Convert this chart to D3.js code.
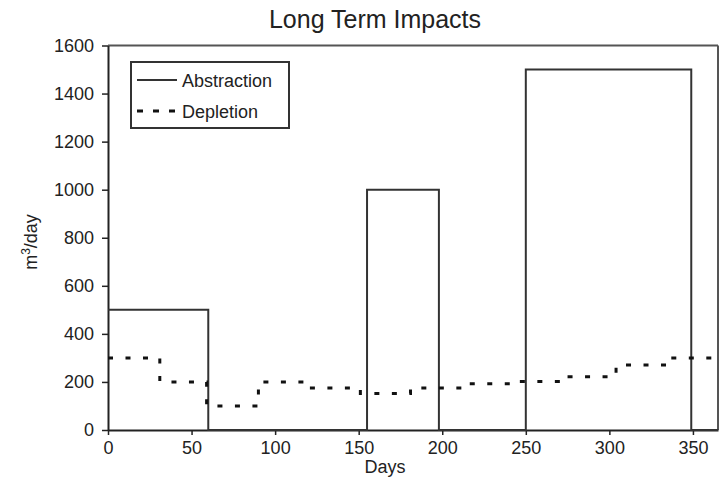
<!DOCTYPE html>
<html>
<head>
<meta charset="utf-8">
<script src="https://cdn.jsdelivr.net/npm/d3@7"></script>
<style>
  body { margin: 0; background: #fff; }
  svg { display: block; font-family: "Liberation Sans", Arial, sans-serif; }
</style>
</head>
<body>
<div id="chart"></div>
<script>
// abstraction steps: rate holds from day[i] until day[i+1]
var abstractionDays = [0, 60, 155, 198, 250, 349, 365];
var abstractionRate = [500, 0, 1000, 0, 1500, 0, 0];

// monthly depletion steps
var depletionDays = [0, 31, 59, 90, 120, 151, 181, 212, 243, 273, 304, 334, 365];
var depletionRate = [300, 200, 100, 200, 175, 152, 175, 192, 202, 222, 270, 300, 300];

var xTicks = [0, 50, 100, 150, 200, 250, 300, 350];
var yTicks = [0, 200, 400, 600, 800, 1000, 1200, 1400, 1600];
var legendNames = ["Abstraction", "Depletion"];

var width = 719, height = 501;
var svg = d3.select('#chart').append('svg')
    .attr('width', width)
    .attr('height', height);

var xs = d3.scaleLinear().domain([0, 365]).range([108, 718]);
var ys = d3.scaleLinear().domain([0, 1600]).range([430, 45.5]);

var ink = '#222';

// frame top and right
svg.append('line')
    .attr('x1', xs(0)).attr('x2', xs(365))
    .attr('y1', ys(1600)).attr('y2', ys(1600))
    .attr('stroke', '#555').attr('stroke-width', 2);
svg.append('line')
    .attr('x1', xs(365)).attr('x2', xs(365))
    .attr('y1', ys(1600)).attr('y2', ys(0))
    .attr('stroke', '#555').attr('stroke-width', 2);

var xAxis = svg.append('g')
    .attr('transform', 'translate(0,' + ys(0) + ')')
    .call(d3.axisBottom(xs).tickValues(xTicks).tickFormat(d3.format('d'))
        .tickSize(5).tickSizeOuter(0).tickPadding(6));
var yAxis = svg.append('g')
    .attr('transform', 'translate(' + xs(0) + ',0)')
    .call(d3.axisLeft(ys).tickValues(yTicks).tickFormat(d3.format('d'))
        .tickSize(6).tickSizeOuter(0).tickPadding(8));

[xAxis, yAxis].forEach(function (g) {
    g.select('.domain').attr('stroke', ink).attr('stroke-width', 2);
    g.selectAll('.tick line').attr('stroke', ink).attr('stroke-width', 1.5);
    g.selectAll('.tick text')
        .attr('fill', ink)
        .style('font-size', '18px')
        .style('font-family', '"Liberation Sans", Arial, sans-serif');
});

var abstraction = abstractionDays.map(function (d, i) { return {x: d, y: abstractionRate[i]}; });
var depletion = depletionDays.map(function (d, i) { return {x: d, y: depletionRate[i]}; });

var step = d3.line()
    .x(function (d) { return xs(d.x); })
    .y(function (d) { return ys(d.y); })
    .curve(d3.curveStepAfter);

svg.append('path')
    .datum(abstraction)
    .attr('d', step)
    .attr('fill', 'none')
    .attr('stroke', '#333')
    .attr('stroke-width', 2);

svg.append('path')
    .datum(depletion)
    .attr('d', step)
    .attr('fill', 'none')
    .attr('stroke', '#111')
    .attr('stroke-width', 3)
    .attr('stroke-dasharray', '5,12.5');

// title and axis labels
svg.append('text')
    .attr('x', 375).attr('y', 28)
    .attr('text-anchor', 'middle')
    .attr('fill', ink)
    .style('font-size', '25px')
    .text('Long Term Impacts');

svg.append('text')
    .attr('x', 385).attr('y', 473)
    .attr('text-anchor', 'middle')
    .attr('fill', ink)
    .style('font-size', '18px')
    .text('Days');

var yl = svg.append('text')
    .attr('transform', 'translate(37,242) rotate(-90)')
    .attr('text-anchor', 'middle')
    .attr('fill', ink)
    .style('font-size', '18px');
yl.append('tspan').text('m');
yl.append('tspan').attr('dy', -7).style('font-size', '12px').text('3');
yl.append('tspan').attr('dy', 7).text('/day');

// legend
var lg = svg.append('g');
lg.append('rect')
    .attr('x', 131).attr('y', 62)
    .attr('width', 158).attr('height', 66)
    .attr('fill', '#fff')
    .attr('stroke', '#333')
    .attr('stroke-width', 2);

lg.selectAll('line.key').data(legendNames).enter().append('line')
    .attr('class', 'key')
    .attr('x1', 137).attr('x2', 177)
    .attr('y1', function (d, i) { return 80 + i * 31; })
    .attr('y2', function (d, i) { return 80 + i * 31; })
    .attr('stroke', function (d, i) { return i ? '#111' : '#333'; })
    .attr('stroke-width', function (d, i) { return i ? 3 : 2; })
    .attr('stroke-dasharray', function (d, i) { return i ? '6,10' : null; });

lg.selectAll('text').data(legendNames).enter().append('text')
    .attr('x', 182)
    .attr('y', function (d, i) { return 87 + i * 31; })
    .attr('fill', ink)
    .style('font-size', '18px')
    .text(function (d) { return d; });
</script>
</body>
</html>
